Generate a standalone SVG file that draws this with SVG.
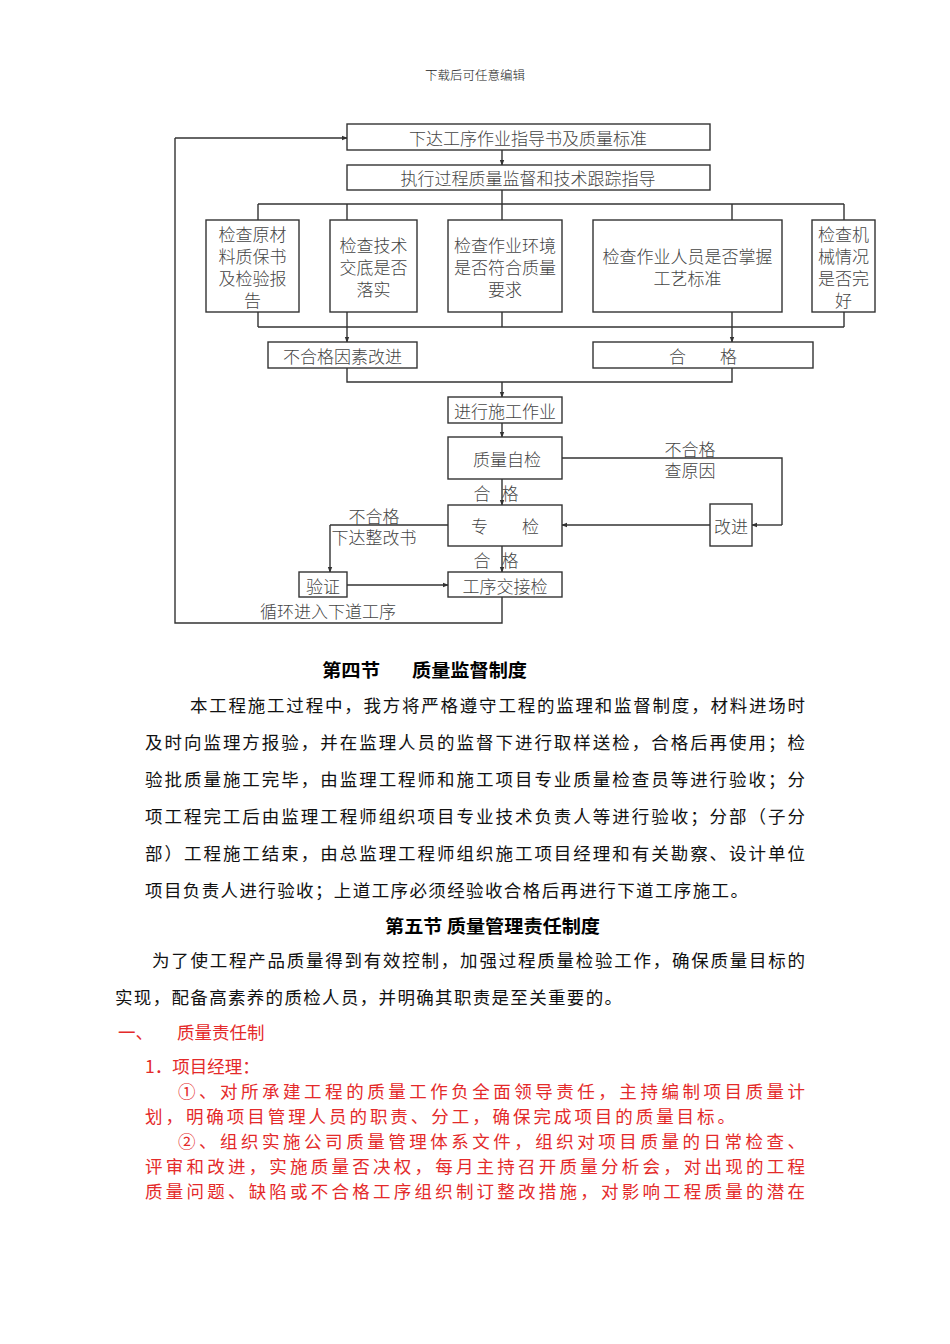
<svg xmlns="http://www.w3.org/2000/svg" width="950" height="1344" viewBox="0 0 950 1344">
<style>
.bx{fill:#fff;stroke:#333;stroke-width:1.4}
.ln{fill:none;stroke:#333;stroke-width:1.4}
.ar{fill:none;stroke:#333;stroke-width:1.4;marker-end:url(#ah)}
.ft{font-family:"Noto Sans CJK SC","Liberation Serif",serif;font-size:17px;fill:#444;font-weight:300;text-anchor:middle;dominant-baseline:central}
.ftl{font-family:"Noto Sans CJK SC","Liberation Serif",serif;font-size:17px;fill:#444;font-weight:300;dominant-baseline:central}
.body{font-family:"Noto Sans CJK SC","Liberation Serif",serif;font-size:17.5px;fill:#111;dominant-baseline:central}
.hd{font-family:"Noto Sans CJK SC","Liberation Sans",sans-serif;font-size:18px;fill:#000;font-weight:bold;dominant-baseline:central}
.red{font-family:"Noto Sans CJK SC","Liberation Serif",serif;font-size:17.5px;fill:#e42a2a;dominant-baseline:central}
</style>
<defs>
<marker id="ah" viewBox="0 0 8 8" refX="7" refY="4" markerWidth="6" markerHeight="6" orient="auto" markerUnits="userSpaceOnUse">
<path d="M0,1 L8,4 L0,7 z" fill="#333"/>
</marker>
</defs>
<rect width="950" height="1344" fill="#fff"/>
<text x="475" y="74" class="ftl" style="font-size:12.5px;fill:#222;text-anchor:middle">下载后可任意编辑</text>

<g id="connectors">
<path class="ar" d="M502,150 V165"/>
<path class="ln" d="M502,190 V204"/>
<path class="ln" d="M258,204 H844"/>
<path class="ln" d="M258,204 V220 M347,204 V220 M502,204 V220 M732,204 V220 M844,204 V220"/>
<path class="ln" d="M258,312 V327 M347,312 V327 M502,312 V327 M732,312 V327 M844,312 V327"/>
<path class="ln" d="M258,327 H844"/>
<path class="ar" d="M347,327 V342"/>
<path class="ar" d="M732,327 V342"/>
<path class="ln" d="M347,368 V382 H732 V368"/>
<path class="ar" d="M502,382 V397"/>
<path class="ar" d="M502,423 V437"/>
<path class="ar" d="M502,479 V505"/>
<path class="ar" d="M502,546 V572"/>
<path class="ln" d="M562,458 H782 V525"/>
<path class="ar" d="M782,525 H752"/>
<path class="ar" d="M710,525 H562"/>
<path class="ln" d="M448,525 H330"/>
<path class="ar" d="M330,525 V572"/>
<path class="ar" d="M347,585 H448"/>
<path class="ln" d="M502,597 V623 H175 V138"/>
<path class="ar" d="M175,138 H347"/>
</g>

<g id="n1"><rect class="bx" x="347" y="124" width="363" height="26"/><text class="ft" x="528" y="137">下达工序作业指导书及质量标准</text></g>
<g id="n2"><rect class="bx" x="347" y="165" width="363" height="25"/><text class="ft" x="528" y="177">执行过程质量监督和技术跟踪指导</text></g>
<g id="n3"><rect class="bx" x="206" y="220" width="93" height="92"/>
<text class="ft" x="252.5" y="233">检查原材</text><text class="ft" x="252.5" y="255">料质保书</text><text class="ft" x="252.5" y="277">及检验报</text><text class="ft" x="252.5" y="299">告</text></g>
<g id="n4"><rect class="bx" x="330" y="220" width="87" height="92"/>
<text class="ft" x="373.5" y="244">检查技术</text><text class="ft" x="373.5" y="266">交底是否</text><text class="ft" x="373.5" y="288">落实</text></g>
<g id="n5"><rect class="bx" x="448" y="220" width="114" height="92"/>
<text class="ft" x="505" y="244">检查作业环境</text><text class="ft" x="505" y="266">是否符合质量</text><text class="ft" x="505" y="288">要求</text></g>
<g id="n6"><rect class="bx" x="593" y="220" width="189" height="92"/>
<text class="ft" x="687.5" y="255">检查作业人员是否掌握</text><text class="ft" x="687.5" y="277">工艺标准</text></g>
<g id="n7"><rect class="bx" x="812" y="220" width="63" height="92"/>
<text class="ft" x="843.5" y="233">检查机</text><text class="ft" x="843.5" y="255">械情况</text><text class="ft" x="843.5" y="277">是否完</text><text class="ft" x="843.5" y="299">好</text></g>
<g id="n8"><rect class="bx" x="268" y="342" width="149" height="26"/><text class="ft" x="342.5" y="355">不合格因素改进</text></g>
<g id="n9"><rect class="bx" x="593" y="342" width="220" height="26"/><text class="ft" x="703" y="355" xml:space="preserve">合　　格</text></g>
<g id="n10"><rect class="bx" x="448" y="397" width="114" height="26"/><text class="ft" x="505" y="410">进行施工作业</text></g>
<g id="n11"><rect class="bx" x="448" y="437" width="114" height="42"/><text class="ft" x="507" y="458">质量自检</text></g>
<g id="n12"><rect class="bx" x="448" y="505" width="114" height="41"/><text class="ft" x="505" y="525" xml:space="preserve">专　　检</text></g>
<g id="n13"><rect class="bx" x="448" y="572" width="114" height="25"/><text class="ft" x="505" y="585">工序交接检</text></g>
<g id="n14"><rect class="bx" x="299" y="572" width="48" height="25"/><text class="ft" x="323" y="585">验证</text></g>
<g id="n15"><rect class="bx" x="710" y="504" width="42" height="42"/><text class="ft" x="731" y="525">改进</text></g>

<g id="labels">
<text class="ft" x="482" y="492">合</text><text class="ft" x="510" y="492">格</text>
<text class="ft" x="482" y="559">合</text><text class="ft" x="510" y="559">格</text>
<text class="ft" x="690" y="448">不合格</text><text class="ft" x="690" y="469">查原因</text>
<text class="ft" x="374" y="515">不合格</text><text class="ft" x="374" y="536">下达整改书</text>
<text class="ft" x="328" y="610">循环进入下道工序</text>
</g>

<text class="hd" x="322" y="669" textLength="58" lengthAdjust="spacingAndGlyphs">第四节</text>
<text class="hd" x="412" y="669" textLength="115" lengthAdjust="spacingAndGlyphs">质量监督制度</text>
<text class="body" x="190" y="704" textLength="615" lengthAdjust="spacing">本工程施工过程中，我方将严格遵守工程的监理和监督制度，材料进场时</text>
<text class="body" x="145" y="741" textLength="660" lengthAdjust="spacing">及时向监理方报验，并在监理人员的监督下进行取样送检，合格后再使用；检</text>
<text class="body" x="145" y="778" textLength="660" lengthAdjust="spacing">验批质量施工完毕，由监理工程师和施工项目专业质量检查员等进行验收；分</text>
<text class="body" x="145" y="815" textLength="660" lengthAdjust="spacing">项工程完工后由监理工程师组织项目专业技术负责人等进行验收；分部（子分</text>
<text class="body" x="145" y="852" textLength="660" lengthAdjust="spacing">部）工程施工结束，由总监理工程师组织施工项目经理和有关勘察、设计单位</text>
<text class="body" x="145" y="889" textLength="603" lengthAdjust="spacing">项目负责人进行验收；上道工序必须经验收合格后再进行下道工序施工。</text>
<text class="hd" x="385" y="925" textLength="215" lengthAdjust="spacingAndGlyphs">第五节 质量管理责任制度</text>
<text class="body" x="152" y="959" textLength="653" lengthAdjust="spacing">为了使工程产品质量得到有效控制，加强过程质量检验工作，确保质量目标的</text>
<text class="body" x="115" y="996" textLength="507" lengthAdjust="spacing">实现，配备高素养的质检人员，并明确其职责是至关重要的。</text>
<text class="red" x="118" y="1031">一、</text>
<text class="red" x="177" y="1031">质量责任制</text>
<text class="red" x="145" y="1065">1．项目经理：</text>
<text class="red" x="178" y="1090" textLength="627" lengthAdjust="spacing">①、对所承建工程的质量工作负全面领导责任，主持编制项目质量计</text>
<text class="red" x="145" y="1115" textLength="590" lengthAdjust="spacing">划，明确项目管理人员的职责、分工，确保完成项目的质量目标。</text>
<text class="red" x="178" y="1140" textLength="627" lengthAdjust="spacing">②、组织实施公司质量管理体系文件，组织对项目质量的日常检查、</text>
<text class="red" x="145" y="1165" textLength="660" lengthAdjust="spacing">评审和改进，实施质量否决权，每月主持召开质量分析会，对出现的工程</text>
<text class="red" x="145" y="1190" textLength="660" lengthAdjust="spacing">质量问题、缺陷或不合格工序组织制订整改措施，对影响工程质量的潜在</text>
</svg>
